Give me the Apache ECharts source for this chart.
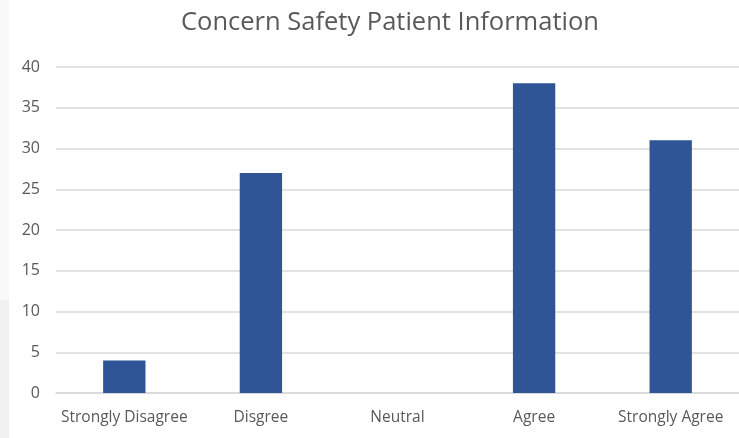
<!DOCTYPE html>
<html>
<head>
<meta charset="utf-8">
<script src="https://cdn.jsdelivr.net/npm/echarts@6/dist/echarts.min.js"></script>
<style>
  html, body { margin: 0; padding: 0; background: #fff; }
  #chart { width: 739px; height: 438px; }
</style>
</head>
<body>
<div id="chart"></div>
<script>
const categories = ['Strongly Disagree', 'Disgree', 'Neutral', 'Agree', 'Strongly Agree']
const counts = [4, 27, 0, 38, 31]
const yTicks = { min: 0, max: 40, interval: 5 }

const textColor = '#595959'
const gridColor = '#d9d9d9'

const chart = echarts.init(document.getElementById('chart'))
chart.setOption({
  backgroundColor: '#fff',
  animation: false,
  // faint page edge visible on the left of the original screenshot
  graphic: [
    { type: 'rect', left: 0, top: 0, shape: { width: 9, height: 300 }, style: { fill: '#f9f9f9' }, silent: true },
    { type: 'rect', left: 0, top: 300, shape: { width: 9, height: 138 }, style: { fill: '#f1f1f1' }, silent: true }
  ],
  title: {
    text: 'Concern Safety Patient Information',
    left: 176,
    top: 5,
    textStyle: { fontFamily: 'Open Sans', fontSize: 25.5, fontWeight: 'normal', color: textColor }
  },
  grid: { left: 56, right: -2, top: 67, bottom: 45 },
  xAxis: {
    type: 'category',
    data: categories,
    axisTick: { show: false },
    axisLine: { lineStyle: { color: gridColor, width: 1.5 } },
    axisLabel: { interval: 0, color: textColor, fontFamily: 'Open Sans', fontSize: 15.5, margin: 17 }
  },
  yAxis: {
    type: 'value',
    min: yTicks.min,
    max: yTicks.max,
    interval: yTicks.interval,
    axisLine: { show: false },
    axisTick: { show: false },
    axisLabel: { color: textColor, fontFamily: 'Open Sans', fontSize: 16, margin: 16 },
    splitLine: { lineStyle: { color: gridColor, width: 1.5 } }
  },
  series: [{
    type: 'bar',
    data: counts,
    barWidth: '31%',
    itemStyle: { color: '#2F5597' }
  }]
})
</script>
</body>
</html>
